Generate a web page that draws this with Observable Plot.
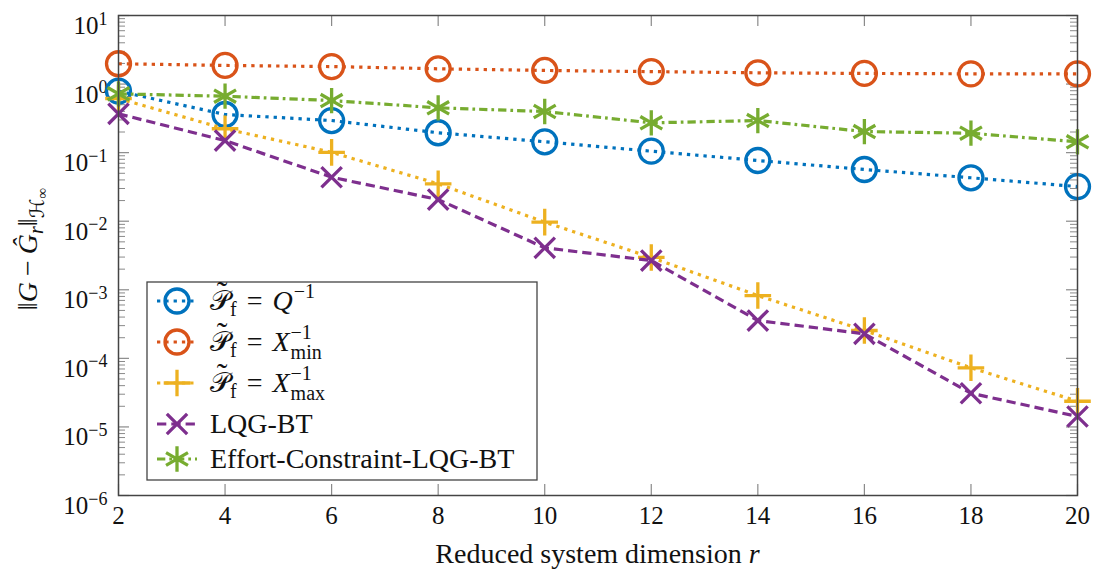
<!DOCTYPE html>
<html><head><meta charset="utf-8">
<script src="https://cdn.jsdelivr.net/npm/d3@7"></script>
<script src="https://cdn.jsdelivr.net/npm/@observablehq/plot@0.6"></script>
<style>
body{margin:0;background:#fff;}
#chart{width:1098px;height:570px;}
</style></head><body><div id="chart"></div>
<script>
// ---- data ----
const rVals = [2, 4, 6, 8, 10, 12, 14, 16, 18, 20];
const errQ    = [0.787, 0.36, 0.294, 0.195, 0.144, 0.105, 0.0768, 0.0568, 0.043, 0.032];
const errXmin = [1.98, 1.87, 1.80, 1.67, 1.58, 1.52, 1.46, 1.43, 1.41, 1.41];
const errXmax = [0.616, 0.223, 0.101, 0.0351, 0.0097, 0.00296, 0.000824, 0.000255, 7.28e-5, 2.37e-5];
const errLQG  = [0.368, 0.150, 0.0438, 0.0207, 0.00409, 0.00267, 0.000356, 0.000228, 3.1e-5, 1.42e-5];
const errEC   = [0.72, 0.665, 0.575, 0.45, 0.398, 0.272, 0.294, 0.203, 0.192, 0.144];
const seriesKeys = ["Q", "Xmin", "Xmax", "LQG", "EC"];
const xTicks = [2, 4, 6, 8, 10, 12, 14, 16, 18, 20];
const yMajor = [1e-6, 1e-5, 1e-4, 1e-3, 1e-2, 1e-1, 1, 10];
const yMinorMult = [2, 3, 4, 5, 6, 7, 8, 9];

const SERIF = "'Liberation Serif', 'DejaVu Serif', serif";
const styles = {
  Q:    {color: "#0072BD", dash: "3.3,5", symbol: "circle", r: 12},
  Xmin: {color: "#D95319", dash: "3.3,5", symbol: "circle", r: 12},
  Xmax: {color: "#EDB120", dash: "3.3,5", symbol: "plus", r: 8.6},
  LQG:  {color: "#7E2F8E", dash: "9.3,5", symbol: "times", r: 9.3},
  EC:   {color: "#77AC30", dash: "8.3,4,2.7,4", symbol: "asterisk", r: 12}
};
const values = {Q: errQ, Xmin: errXmin, Xmax: errXmax, LQG: errLQG, EC: errEC};

const yMinor = [];
for (const m of yMajor.slice(0, -1)) for (const k of yMinorMult) yMinor.push(m * k);

const W = 1098, H = 570, mL = 118, mR = 21, mT = 15, mB = 75;
const pw = W - mL - mR, ph = H - mT - mB;
const tickCol = "#8a8a8a";

const seriesMarks = [];
for (const k of seriesKeys) {
  const s = styles[k];
  const rows = rVals.map((x, i) => ({x, y: values[k][i]}));
  seriesMarks.push(Plot.line(rows, {x: "x", y: "y", stroke: s.color, strokeWidth: 3.2, strokeDasharray: s.dash, strokeLinecap: "butt"}));
  seriesMarks.push(Plot.dot(rows, {x: "x", y: "y", symbol: () => s.symbol, r: s.r, stroke: s.color, fill: "none", strokeWidth: 3.3}));
}

const svg = Plot.plot({
  width: W, height: H, marginLeft: mL, marginRight: mR, marginTop: mT, marginBottom: mB,
  style: {fontFamily: SERIF, fontSize: "25px", background: "white", color: "#222"},
  x: {domain: [2, 20], label: null},
  y: {type: "log", domain: [1e-6, 10], label: null},
  symbol: {type: "identity"},
  marks: [
    Plot.tickX(xTicks, {x: d => d, insetTop: ph - 11, stroke: tickCol, strokeWidth: 1.2}),
    Plot.tickX(xTicks, {x: d => d, insetBottom: ph - 11, stroke: tickCol, strokeWidth: 1.2}),
    Plot.tickY(yMajor, {y: d => d, insetRight: pw - 11, stroke: tickCol, strokeWidth: 1.2}),
    Plot.tickY(yMajor, {y: d => d, insetLeft: pw - 11, stroke: tickCol, strokeWidth: 1.2}),
    Plot.tickY(yMinor, {y: d => d, insetRight: pw - 7, stroke: tickCol, strokeWidth: 1}),
    Plot.tickY(yMinor, {y: d => d, insetLeft: pw - 7, stroke: tickCol, strokeWidth: 1}),
    Plot.axisX({ticks: xTicks, tickSize: 0, tickPadding: 11, fontSize: 25, tickFormat: d => String(d), fill: "#111", fontFamily: SERIF}),
    Plot.axisY({ticks: yMajor, tickSize: 0, tickPadding: 11, fontSize: 25, fill: "#111", fontFamily: SERIF,
      tickFormat: d => "10^" + String(Math.round(Math.log10(d))).replace("-", "\u2212")}),
    ...seriesMarks,
    Plot.frame({stroke: "#444", strokeWidth: 1.5})
  ]
});
document.getElementById("chart").appendChild(svg);
const root = d3.select(svg);

// superscript exponents on y tick labels
root.selectAll('g[aria-label="y-axis tick label"] text').each(function () {
  const t = d3.select(this);
  const [b, e] = this.textContent.split("^");
  t.text(null).attr("dy", "0.42em");
  t.append("tspan").text(b);
  t.append("tspan").attr("dy", "-0.52em").attr("font-size", "18px").text(e);
});

// rich text helper
function rich(g, x, y, parts, base = 28) {
  let cx = x, lastStart = x, lastW = 0;
  for (const p of parts) {
    const size = p.size || base;
    const t = g.append("text").attr("y", y + (p.dy || 0)).attr("font-size", size)
      .attr("font-family", p.font || SERIF).attr("font-style", p.it ? "italic" : "normal")
      .attr("text-anchor", "start").attr("fill", "#111").text(p.t);
    if (p.accent) {
      t.attr("x", lastStart + lastW / 2 + (p.shift || 0)).attr("text-anchor", "middle");
      continue;
    }
    cx += p.gap || 0;
    const start = p.stack ? lastStart : cx;
    t.attr("x", start);
    const w = t.node().getComputedTextLength();
    if (p.stack) { cx = lastStart + Math.max(lastW, w); }
    else { lastStart = start; lastW = w; cx = start + w + (p.after || 0); }
  }
  return cx - x;
}

const SCRIPT = "'DejaVu Sans', 'Noto Sans', serif";
const Ptilde = [
  {t: "\u{1D4AB}", font: SCRIPT},
  {t: "\u02DC", accent: true, dy: -7, size: 32, shift: 2},
  {t: "f", size: 20, dy: 6},
  {t: "=", gap: 10, after: 10}
];
const legendItems = [
  {key: "Q", parts: [...Ptilde, {t: "Q", it: true}, {t: "\u22121", size: 20, dy: -12, gap: 1}]},
  {key: "Xmin", parts: [...Ptilde, {t: "X", it: true}, {t: "\u22121", size: 20, dy: -12, gap: 1}, {t: "min", size: 20, dy: 8, stack: true}]},
  {key: "Xmax", parts: [...Ptilde, {t: "X", it: true}, {t: "\u22121", size: 20, dy: -12, gap: 1}, {t: "max", size: 20, dy: 8, stack: true}]},
  {key: "LQG", parts: [{t: "LQG-BT"}]},
  {key: "EC", parts: [{t: "Effort-Constraint-LQG-BT"}]}
];
const rowY = [301, 342, 383, 424, 459];

const lg = root.append("g");
lg.append("rect").attr("x", 147).attr("y", 282).attr("width", 390).attr("height", 198)
  .attr("fill", "white").attr("stroke", "#444").attr("stroke-width", 1.3);
legendItems.forEach((it, i) => {
  const s = styles[it.key];
  const y = rowY[i];
  lg.append("line").attr("x1", 157).attr("x2", 197).attr("y1", y).attr("y2", y)
    .attr("stroke", s.color).attr("stroke-width", 3.2).attr("stroke-dasharray", s.dash);
  const sym = {circle: d3.symbolCircle, plus: d3.symbolPlus, times: d3.symbolTimes, asterisk: d3.symbolAsterisk}[s.symbol];
  lg.append("path").attr("d", d3.symbol(sym, Math.PI * s.r * s.r)()).attr("transform", `translate(177,${y})`)
    .attr("fill", "none").attr("stroke", s.color).attr("stroke-width", 3.3);
  rich(lg, 210, y + 9, it.parts);
});

// x label
const xg = root.append("g");
const xw = rich(xg, 0, 563, [{t: "Reduced system dimension "}, {t: "r", it: true}]);
xg.attr("transform", `translate(${(mL + W - mR) / 2 - xw / 2},0)`);

// y label
const yg = root.append("g");
const yparts = [
  {t: "\u2016"}, {t: "G", it: true}, {t: "\u2212", gap: 6, after: 6}, {t: "\u011C", it: true},
  {t: "r", it: true, size: 20, dy: 6}, {t: "\u2016"},
  {t: "\u210B", size: 20, dy: 7, it: true, font: SCRIPT}, {t: "\u221E", size: 15, dy: 10}
];
const inner = yg.append("g");
const yw = rich(inner, 0, 0, yparts);
yg.attr("transform", `translate(37,${(mT + H - mB) / 2 - 6}) rotate(-90) translate(${-yw / 2},0)`);
</script></body></html>
